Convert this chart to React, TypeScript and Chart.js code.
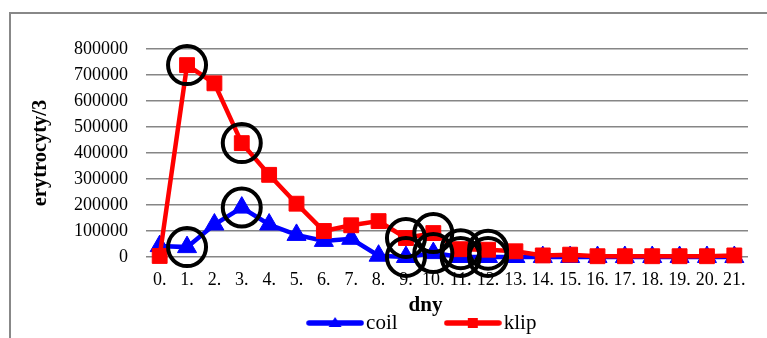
import React, { useEffect, useRef } from 'react';
import { Chart, registerables } from 'chart.js';

Chart.register(...registerables);

// ---- data ----
const days = ['0.', '1.', '2.', '3.', '4.', '5.', '6.', '7.', '8.', '9.', '10.', '11.', '12.', '13.', '14.', '15.', '16.', '17.', '18.', '19.', '20.', '21.'];
const coil = [42000, 38000, 125000, 190000, 125000, 85000, 62000, 70000, 5000, 0, 15000, 0, 0, 0, 0, 0, 0, 0, 0, 0, 0, 0];
const klip = [4000, 738000, 668000, 438000, 316000, 205000, 100000, 122000, 138000, 73000, 92000, 30000, 28000, 22000, 6000, 9000, 3000, 3000, 3000, 3000, 3000, 6000];
const circledKlipDays = [1, 3, 9, 10, 11, 12];
const circledCoilDays = [1, 3, 9, 10, 11, 12];
const yMax = 800000;
const yStep = 100000;
const yTitle = 'erytrocyty/3';
const xTitle = 'dny';
const seriesNames = ['coil', 'klip'];

const SERIF = "'Liberation Serif', 'Times New Roman', serif";
const BLUE = '#0000FF';
const RED = '#FF0000';

function legendImage(color: string, marker: 'triangle' | 'rect'): HTMLCanvasElement {
  const c = document.createElement('canvas');
  c.width = 58;
  c.height = 16;
  const ctx = c.getContext('2d')!;
  ctx.strokeStyle = color;
  ctx.fillStyle = color;
  ctx.lineWidth = 5.5;
  ctx.lineCap = 'round';
  ctx.beginPath();
  ctx.moveTo(3, 8);
  ctx.lineTo(55, 8);
  ctx.stroke();
  ctx.beginPath();
  if (marker === 'rect') {
    ctx.rect(24, 3, 10, 10);
  } else {
    ctx.moveTo(29, 2);
    ctx.lineTo(35.5, 12);
    ctx.lineTo(22.5, 12);
    ctx.closePath();
  }
  ctx.fill();
  return c;
}

export default function App() {
  const ref = useRef<HTMLCanvasElement | null>(null);

  useEffect(() => {
    if (!ref.current) return;
    const imgs = [legendImage(BLUE, 'triangle'), legendImage(RED, 'rect')];
    const ring = (src: number[], idx: number[]) => days.map((_, i) => (idx.includes(i) ? src[i] : null));
    const chart = new Chart(ref.current, {
      type: 'line',
      data: {
        labels: days,
        datasets: [
          {
            label: seriesNames[0],
            data: coil,
            borderColor: BLUE,
            backgroundColor: BLUE,
            borderWidth: 4.5,
            pointStyle: 'triangle',
            pointRadius: 11,
            pointBorderWidth: 1,
            pointBackgroundColor: BLUE,
            pointBorderColor: BLUE,
            tension: 0,
            clip: false,
            order: 2,
          },
          {
            label: seriesNames[1],
            data: klip,
            borderColor: RED,
            backgroundColor: RED,
            borderWidth: 4.5,
            pointStyle: 'rect',
            pointRadius: 10.5,
            pointBorderWidth: 1,
            pointBackgroundColor: RED,
            pointBorderColor: RED,
            tension: 0,
            clip: false,
            order: 1,
          },
          {
            label: 'ring-klip',
            data: ring(klip, circledKlipDays),
            showLine: false,
            pointStyle: 'circle',
            pointRadius: 19,
            pointBorderWidth: 4,
            pointBorderColor: '#000',
            pointBackgroundColor: 'rgba(0,0,0,0)',
            clip: false,
            order: 0,
          },
          {
            label: 'ring-coil',
            data: ring(coil, circledCoilDays),
            showLine: false,
            pointStyle: 'circle',
            pointRadius: 19,
            pointBorderWidth: 4,
            pointBorderColor: '#000',
            pointBackgroundColor: 'rgba(0,0,0,0)',
            clip: false,
            order: 0,
          },
        ] as any,
      },
      options: {
        responsive: false,
        animation: false,
        events: [],
        layout: { padding: { top: 35, right: 1, bottom: 0.5, left: 0 } },
        plugins: {
          tooltip: { enabled: false },
          legend: {
            position: 'bottom',
            align: 'center',
            title: {
              display: true,
              text: xTitle,
              color: '#000',
              font: { family: SERIF, size: 21, weight: 'bold' },
              padding: { top: 2, bottom: -62.7 },
            },
            labels: {
              usePointStyle: true,
              pointStyleWidth: 41,
              padding: 54.7,
              color: '#000',
              font: { family: SERIF, size: 21 },
              generateLabels: (ch: any) =>
                [0, 1].map((i) => ({
                  text: ch.data.datasets[i].label,
                  pointStyle: imgs[i],
                  fillStyle: 'rgba(0,0,0,0)',
                  strokeStyle: 'rgba(0,0,0,0)',
                  lineWidth: 0,
                  hidden: false,
                  datasetIndex: i,
                  fontColor: '#000',
                })),
            },
          },
        },
        scales: {
          x: {
            type: 'category',
            offset: true,
            grid: { display: false, drawTicks: false },
            border: { display: false },
            ticks: {
              autoSkip: false,
              maxRotation: 0,
              minRotation: 0,
              padding: 12,
              color: '#000',
              font: { family: SERIF, size: 18 },
            },
            afterFit: (s: any) => {
              s.height = 36.3;
            },
          },
          y: {
            min: 0,
            max: yMax,
            grid: { color: '#868686', lineWidth: 1.5, drawTicks: false },
            border: { display: false },
            ticks: {
              stepSize: yStep,
              padding: 18,
              color: '#000',
              font: { family: SERIF, size: 18 },
              callback: (v: any) => String(v),
            },
            title: {
              display: true,
              text: yTitle,
              color: '#000',
              font: { family: SERIF, size: 20.5, weight: 'bold' },
              padding: { top: 17.5, bottom: 0 },
            },
            afterFit: (s: any) => {
              s.width = 135;
            },
          },
          // empty spacer on the right (the original chart is cropped on that side)
          yRight: {
            type: 'linear',
            position: 'right',
            display: true,
            grid: { display: false, drawTicks: false },
            border: { display: false },
            ticks: { display: false },
            afterFit: (s: any) => {
              s.width = 92;
            },
          },
        },
      } as any,
    });
    return () => chart.destroy();
  }, []);

  return (
    <div
      style={{
        position: 'fixed',
        left: 0,
        top: 0,
        width: 767,
        height: 338,
        overflow: 'hidden',
        background: '#fff',
      }}
    >
      <div
        style={{
          position: 'absolute',
          left: 9,
          top: 12,
          width: 830,
          height: 340,
          border: '2px solid #888',
        }}
      >
        <canvas ref={ref} width={830} height={330} style={{ display: 'block' }} />
      </div>
    </div>
  );
}
